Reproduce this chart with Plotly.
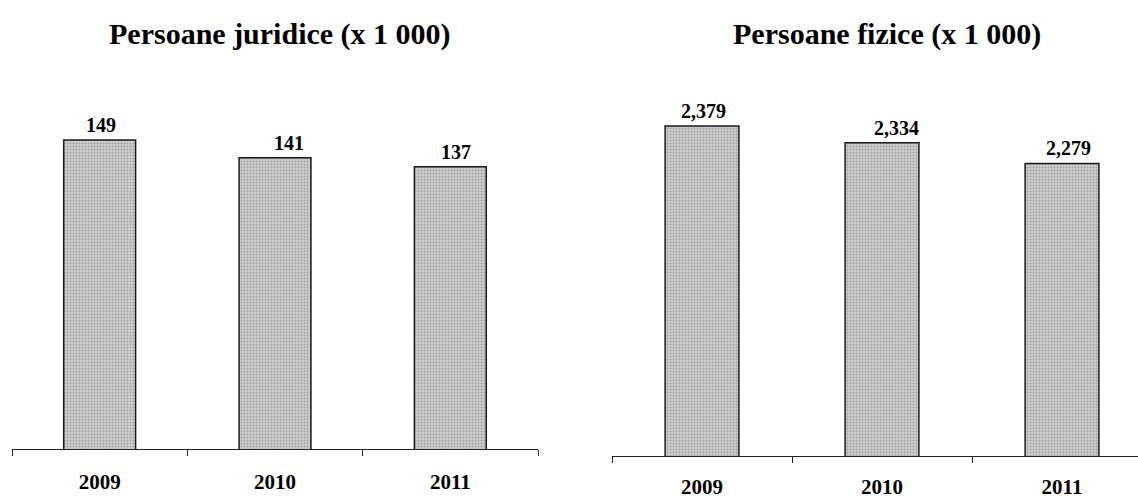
import plotly.graph_objects as go

years = ["2009", "2010", "2011"]
juridice = [149, 141, 137]
fizice = [2379, 2334, 2279]
juridice_labels = ["149", "141", "137"]
fizice_labels = ["2,379", "2,334", "2,279"]
title_left = "Persoane juridice (x 1 000)"
title_right = "Persoane fizice (x 1 000)"

W, H = 1138, 499
FONT = "Liberation Serif"
label_dx = [1, 14, 6]  # horizontal nudge of value labels (px)

def px_x(p):
    return p / W

def px_y(p):
    return (H - p) / H

bar_marker = dict(
    color="#c4c4c4",
    line=dict(color="#1a1a1a", width=1.5),
    pattern=dict(shape=".", fgcolor="#6e6e6e", bgcolor="#cfcfcf", size=3, solidity=0.35),
)

fig = go.Figure()
fig.add_trace(go.Bar(x=years, y=juridice, width=0.41, marker=bar_marker,
                     xaxis="x", yaxis="y", showlegend=False, hoverinfo="skip"))
fig.add_trace(go.Bar(x=years, y=fizice, width=0.41, marker=bar_marker,
                     xaxis="x2", yaxis="y2", showlegend=False, hoverinfo="skip"))

axis_common = dict(
    type="category", automargin=False,
    showline=True, linecolor="#222", linewidth=1.2,
    ticks="outside", tickson="boundaries", ticklen=6, tickcolor="#222", tickwidth=1.2,
    showgrid=False, zeroline=False,
    tickfont=dict(family=FONT, size=21, color="black", weight="bold"),
)

fig.update_layout(
    width=W, height=H, autosize=False,
    margin=dict(l=0, r=0, t=0, b=0, autoexpand=False),
    paper_bgcolor="white", plot_bgcolor="white",
    font=dict(family=FONT, color="black"),
    xaxis=dict(domain=[px_x(12), px_x(538)], anchor="y", range=[-0.5, 2.5],
               ticklabelstandoff=14, **axis_common),
    yaxis=dict(domain=[px_y(449), px_y(100)], anchor="x", range=[10, 167],
               visible=False, automargin=False),
    xaxis2=dict(domain=[px_x(612), 1.0], anchor="y2", range=[-0.5, -0.5 + 526 / 180],
                ticklabelstandoff=12, **axis_common),
    yaxis2=dict(domain=[px_y(456), px_y(100)], anchor="x2", range=[1500, 2448],
                visible=False, automargin=False),
)

for i, (v, lab) in enumerate(zip(juridice, juridice_labels)):
    fig.add_annotation(x=i, y=v, xref="x", yref="y", text=lab, showarrow=False,
                       yanchor="middle", yshift=15, xshift=label_dx[i],
                       font=dict(family=FONT, size=20, color="black", weight="bold"))
for i, (v, lab) in enumerate(zip(fizice, fizice_labels)):
    fig.add_annotation(x=i, y=v, xref="x2", yref="y2", text=lab, showarrow=False,
                       yanchor="middle", yshift=15, xshift=label_dx[i],
                       font=dict(family=FONT, size=20, color="black", weight="bold"))

fig.add_annotation(x=px_x(280), y=px_y(34), xref="paper", yref="paper", text=title_left,
                   showarrow=False, xanchor="center", yanchor="middle",
                   font=dict(family=FONT, size=30, color="black", weight="bold"))
fig.add_annotation(x=px_x(887), y=px_y(34), xref="paper", yref="paper", text=title_right,
                   showarrow=False, xanchor="center", yanchor="middle",
                   font=dict(family=FONT, size=30, color="black", weight="bold"))

post = (
    "document.documentElement.style.margin='0';"
    "document.body.style.margin='0';"
    "document.body.style.overflow='hidden';"
)
fig.write_html("out.html", config={"displayModeBar": False, "responsive": False},
               post_script=post)
